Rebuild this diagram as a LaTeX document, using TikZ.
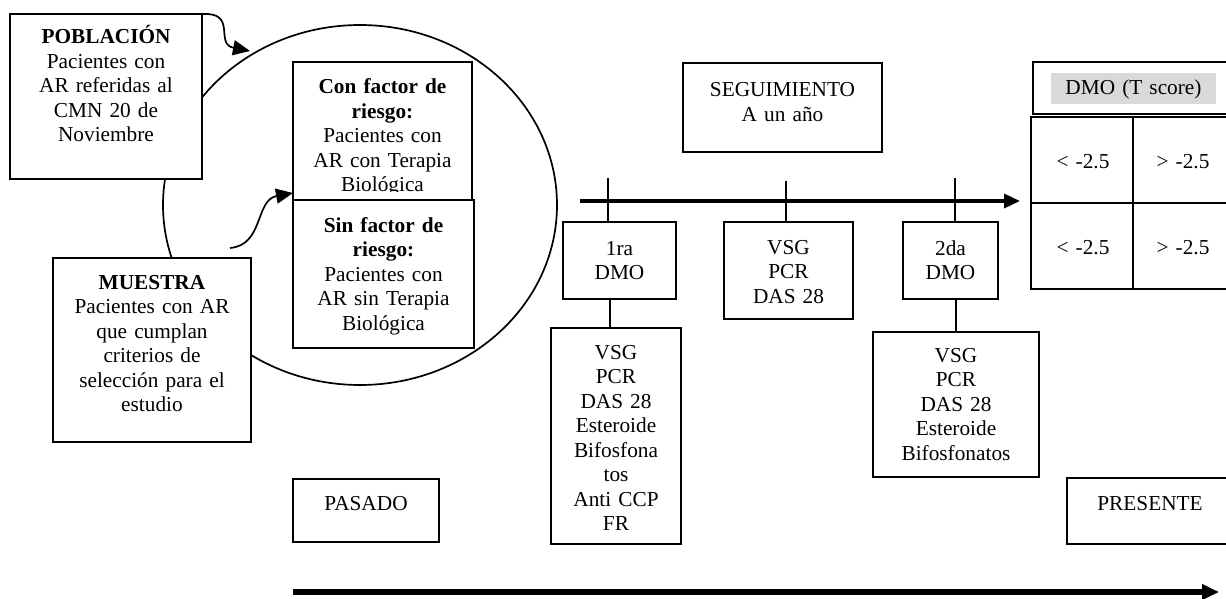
\documentclass[tikz,border=0pt]{standalone}
\usepackage{fontspec}
\setmainfont{Liberation Serif}
\usetikzlibrary{arrows.meta,calc}
\begin{document}
\begin{tikzpicture}[x=1pt,y=-1pt,
  box/.style={draw,line width=1.8pt,fill=white,inner sep=0pt,outer sep=0pt,anchor=north west},
  txt/.style={anchor=base,align=center,inner sep=0pt,text width=#1,font=\fontsize{21.3}{24.5}\selectfont},
  conn/.style={line width=1.7pt},
  tip/.style={-{Triangle[length=17pt,width=15pt]}}]
\useasboundingbox (0,0) rectangle (1226,599);
\clip (0,0) rectangle (1226,599);

% big ellipse
\draw[line width=1.7pt] (360,205) ellipse [x radius=197, y radius=180];

% boxes
\node[box,minimum width=192pt,minimum height=165pt] (pob) at (10,14) {};
\node[box,minimum width=198pt,minimum height=184pt] (mue) at (53,258) {};
\node[box,minimum width=179pt,minimum height=138pt] (con) at (293,62) {};
\node[box,minimum width=181pt,minimum height=148pt] (sin) at (293,200) {};
\node[box,minimum width=146pt,minimum height=63pt] (pas) at (293,479) {};
\node[box,minimum width=199pt,minimum height=89pt] (seg) at (683,63) {};
\node[box,minimum width=113pt,minimum height=77pt] (dmo1) at (563,222) {};
\node[box,minimum width=129pt,minimum height=97pt] (lab) at (724,222) {};
\node[box,minimum width=95pt,minimum height=77pt] (dmo2) at (903,222) {};
\node[box,minimum width=130pt,minimum height=216pt] (low1) at (551,328) {};
\node[box,minimum width=166pt,minimum height=145pt] (low2) at (873,332) {};
\node[box,minimum width=190pt,minimum height=66pt] (pre) at (1067,478) {};
\node[box,minimum width=207pt,minimum height=52pt] (tsc) at (1033,62) {};
\fill[gray!30] (1051,73) rectangle (1216,104);
\node[box,minimum width=102pt,minimum height=86pt] (g11) at (1031,117) {};
\node[box,minimum width=107pt,minimum height=86pt] (g12) at (1133,117) {};
\node[box,minimum width=102pt,minimum height=86pt] (g21) at (1031,203) {};
\node[box,minimum width=107pt,minimum height=86pt] (g22) at (1133,203) {};

% texts
\node[txt=190pt] at (106,44) {\textbf{POBLACIÓN}\\Pacientes con\\AR referidas al\\CMN 20 de\\Noviembre};
\node[txt=196pt] at (152,289) {\textbf{MUESTRA}\\Pacientes con AR\\que cumplan\\criterios de\\selección para el\\estudio};
\begin{scope}
\clip (293,62) rectangle (472,191);
\node[txt=178pt] at (382.5,94) {\textbf{Con factor de}\\\textbf{riesgo:}\\Pacientes con\\AR con Terapia\\Biológica};
\end{scope}
\node[txt=180pt] at (383.5,232) {\textbf{Sin factor de}\\\textbf{riesgo:}\\Pacientes con\\AR sin Terapia\\Biológica};
\node[txt=144pt] at (366,510) {PASADO};
\node[txt=197pt] at (782.5,97) {SEGUIMIENTO\\A un año};
\node[txt=111pt] at (619.5,255) {1ra\\DMO};
\node[txt=127pt] at (788.5,254) {VSG\\PCR\\DAS 28};
\node[txt=93pt] at (950.5,255) {2da\\DMO};
\node[txt=128pt] at (616,359) {VSG\\PCR\\DAS 28\\Esteroide\\Bifosfona\\tos\\Anti CCP\\FR};
\node[txt=164pt] at (956,362) {VSG\\PCR\\DAS 28\\Esteroide\\Bifosfonatos};
\node[txt=150pt] at (1150,510) {PRESENTE};
\node[txt=160pt] at (1133.5,95) {DMO (T score)};
\node[txt=100pt] at (1083,168) {< -2.5};
\node[txt=100pt] at (1183,168) {> -2.5};
\node[txt=100pt] at (1083,254) {< -2.5};
\node[txt=100pt] at (1183,254) {> -2.5};

% connectors
\coordinate (a1) at (250,51);
\draw[conn,tip] (pob.north east) .. controls (238,12) and (214,44) .. (a1);
\coordinate (a2s) at (230,248);
\coordinate (a2e) at ($(con.south west)+(0,-7)$);
\draw[conn,tip] (a2s) .. controls (264,245) and (255,200) .. (a2e);

% timeline
\coordinate (ts) at (580,201);
\coordinate (te) at (1020,201);
\draw[line width=3.5pt,-{Triangle[length=16pt,width=14pt]}] (ts) -- (te);
\coordinate (k1) at (608,178);
\coordinate (k2) at (786,181);
\coordinate (k3) at (955,178);
\draw[conn] (k1) -- (k1 |- dmo1.north);
\draw[conn] (k2) -- (k2 |- lab.north);
\draw[conn] (k3) -- (k3 |- dmo2.north);
\coordinate (d1) at (610,299);
\draw[conn] (d1 |- dmo1.south) -- (d1 |- low1.north);
\coordinate (d2) at (956,299);
\draw[conn] (d2 |- dmo2.south) -- (d2 |- low2.north);

% bottom arrow
\coordinate (bs) at (293,592);
\coordinate (be) at (1219,592);
\draw[line width=5.5pt,-{Triangle[length=17pt,width=15pt]}] (bs) -- (be);
\end{tikzpicture}
\end{document}
